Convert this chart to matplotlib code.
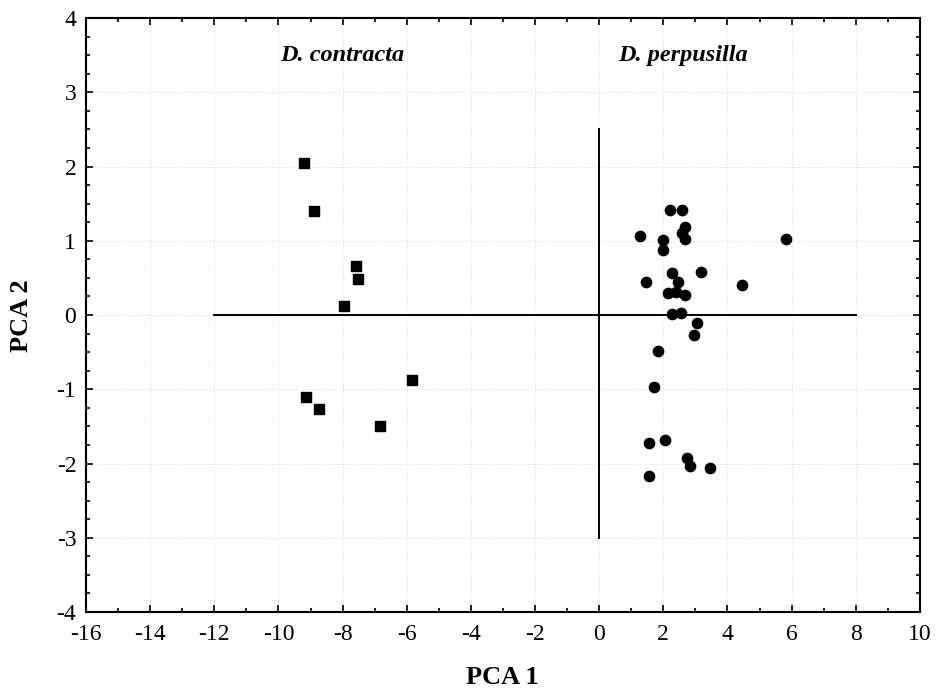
import matplotlib
matplotlib.use("Agg")
import matplotlib.pyplot as plt
from matplotlib.ticker import MultipleLocator

plt.rcParams["font.family"] = ["Liberation Serif", "DejaVu Serif"]
plt.rcParams["axes.unicode_minus"] = False

# D. contracta (squares)
contracta_x = [-9.20, -8.89, -7.58, -7.53, -7.95, -5.84, -9.14, -8.73, -6.83]
contracta_y = [2.05, 1.40, 0.66, 0.49, 0.12, -0.87, -1.11, -1.27, -1.49]

# D. perpusilla (circles)
perpusilla_x = [2.20, 2.59, 2.69, 2.58, 2.69, 1.26, 1.99, 1.99, 5.81, 2.27,
                3.16, 1.46, 2.45, 4.44, 2.15, 2.40, 2.69, 2.26, 2.55, 3.06,
                2.97, 1.83, 1.70, 1.55, 2.04, 2.73, 2.84, 3.44, 1.55]
perpusilla_y = [1.41, 1.41, 1.18, 1.11, 1.02, 1.07, 1.01, 0.87, 1.02, 0.56,
                0.58, 0.44, 0.44, 0.41, 0.30, 0.31, 0.27, 0.01, 0.03, -0.11,
                -0.27, -0.48, -0.97, -1.72, -1.68, -1.92, -2.03, -2.06, -2.17]

fig = plt.figure(figsize=(9.38, 6.93), dpi=100)
ax = fig.add_axes([0.0917, 0.1169, 0.889, 0.857])

ax.set_xlim(-16, 10)
ax.set_ylim(-4, 4)
ax.xaxis.set_major_locator(MultipleLocator(2))
ax.xaxis.set_minor_locator(MultipleLocator(1))
ax.yaxis.set_major_locator(MultipleLocator(1))
ax.yaxis.set_minor_locator(MultipleLocator(0.25))
ax.tick_params(which="both", direction="in", top=True, right=True,
               labelsize=17, width=1.2)
ax.tick_params(axis="x", pad=9)
ax.tick_params(axis="y", pad=7)
ax.tick_params(which="major", length=5)
ax.tick_params(which="minor", length=3)
for s in ax.spines.values():
    s.set_linewidth(1.5)

ax.grid(True, which="major", color="#dddddd", linestyle=":", linewidth=0.8)
ax.set_axisbelow(True)

# reference cross
ax.plot([-12, 8], [0, 0], color="black", lw=1.4)
ax.plot([0, 0], [-3, 2.5], color="black", lw=1.4)

ax.scatter(contracta_x, contracta_y, marker="s", s=48, color="black", zorder=3)
ax.scatter(perpusilla_x, perpusilla_y, marker="o", s=55, color="black", zorder=3)

ax.text(-8.0, 3.5, "D. contracta", fontsize=17.5, fontweight="bold",
        fontstyle="italic", ha="center", va="center")
ax.text(2.6, 3.5, "D. perpusilla", fontsize=17.5, fontweight="bold",
        fontstyle="italic", ha="center", va="center")

ax.set_xlabel("PCA 1", fontsize=19, fontweight="bold")
ax.set_ylabel("PCA 2", fontsize=19, fontweight="bold")
ax.xaxis.set_label_coords(502 / 938, 15 / 693, transform=fig.transFigure)
ax.xaxis.label.set_va("center")
ax.yaxis.set_label_coords(21 / 938, 0.5 + (693 / 2 - 316) / 693,
                          transform=fig.transFigure)
ax.yaxis.label.set_va("center")

plt.savefig("out.png", dpi=100)
